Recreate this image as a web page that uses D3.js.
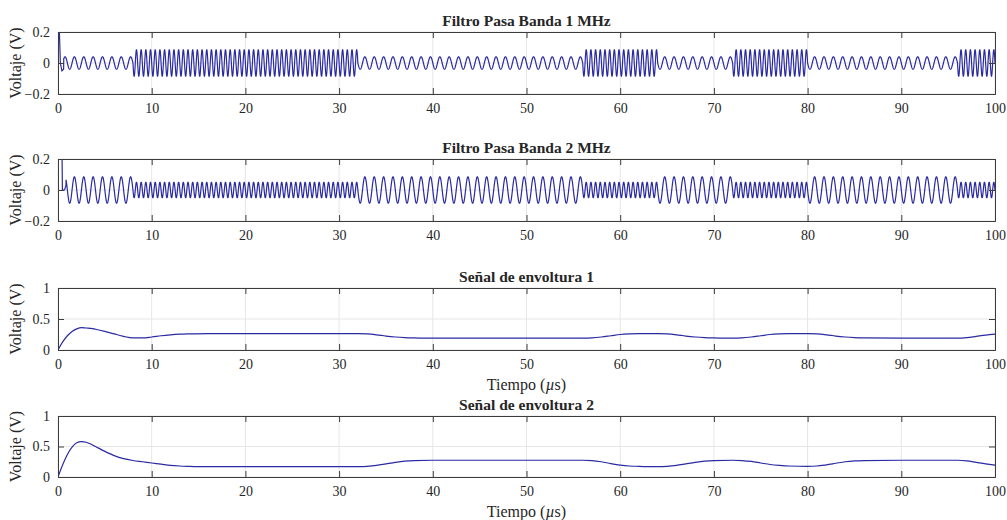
<!DOCTYPE html>
<html><head><meta charset="utf-8">
<script src="https://cdn.jsdelivr.net/npm/d3@7"></script>
<style>
body{margin:0;background:#fff}
svg{display:block}
text{font-family:"Liberation Serif","Times New Roman",serif;fill:#262626}
</style>
</head><body>
<script>
// Bit intervals of the FSK input (µs) and the carrier in each interval (MHz)
const segStart = [0, 8, 32, 56, 64, 72, 80, 96];
const segEnd   = [8, 32, 56, 64, 72, 80, 96, 100];
const segFreq  = [1, 2, 1, 2, 1, 2, 1, 2];
// Output amplitude (V) of each band-pass filter in each interval
const amp1 = [0.04, 0.085, 0.04, 0.085, 0.04, 0.085, 0.04, 0.085];
const amp2 = [0.085, 0.05, 0.085, 0.05, 0.085, 0.05, 0.085, 0.05];
// Start-up transients of the filters [t (µs), V]
const transient1 = [[0, 0], [0.01, 0.3], [0.1, 0.3], [0.25, 0.0], [0.42, -0.05], [0.6, -0.04]];
const transient2 = [[0, 0], [0.01, 0.3], [0.42, 0.3], [0.47, 0.0], [0.7, 0.0], [0.85, 0.03]];

// Envelope detector outputs
const envTime = [0,0.5,1,1.5,2,2.5,3,3.5,4,5,6,7,8,9,10,11,12,13,14,16,20,25,30,32,33,34,35,36,37,38,40,45,50,55,56,57,58,59,60,61,62,64,65,66,67,68,69,70,72,73,74,75,76,77,78,80,81,82,83,84,85,86,90,95,96,97,98,99,100];
const env1 = [0,0.13,0.23,0.30,0.34,0.36,0.355,0.35,0.335,0.30,0.26,0.22,0.195,0.195,0.21,0.23,0.245,0.255,0.26,0.265,0.265,0.265,0.265,0.265,0.26,0.245,0.225,0.21,0.2,0.195,0.19,0.19,0.19,0.19,0.19,0.195,0.21,0.23,0.25,0.26,0.265,0.265,0.26,0.245,0.225,0.21,0.2,0.195,0.19,0.195,0.21,0.23,0.25,0.26,0.265,0.265,0.26,0.245,0.225,0.21,0.2,0.195,0.19,0.19,0.19,0.2,0.22,0.24,0.255];
const env2 = [0,0.2,0.37,0.49,0.56,0.58,0.57,0.54,0.5,0.42,0.35,0.3,0.27,0.25,0.23,0.21,0.19,0.18,0.175,0.17,0.17,0.17,0.17,0.17,0.175,0.19,0.215,0.24,0.26,0.27,0.275,0.275,0.275,0.275,0.275,0.27,0.25,0.22,0.195,0.18,0.175,0.17,0.175,0.19,0.215,0.24,0.26,0.27,0.275,0.27,0.255,0.23,0.205,0.19,0.18,0.175,0.18,0.2,0.225,0.25,0.265,0.27,0.275,0.275,0.275,0.265,0.24,0.215,0.195];

const xTicks = [0, 10, 20, 30, 40, 50, 60, 70, 80, 90, 100];
const yTicksFilter = [-0.2, 0, 0.2];
const yTicksEnv = [0, 0.5, 1];

// Build a band-pass output trace: transient, then the carrier of each bit interval
function filterTrace(amps, transient) {
  const pts = transient.slice();
  const t0 = transient[transient.length - 1][0];
  const dt = 0.01;
  for (let i = 0; i < segStart.length; i++) {
    for (let t = Math.max(segStart[i], t0 + dt); t < segEnd[i] + 1e-9; t += dt) {
      pts.push([t, -amps[i] * Math.sin(2 * Math.PI * segFreq[i] * t)]);
    }
  }
  return pts;
}

const W = 1007, H = 520;
const svg = d3.select("body").append("svg").attr("width", W).attr("height", H);
const x = d3.scaleLinear().domain([0, 100]).range([58, 995]);
const lineColor = "#2a2aa2";

const panels = [
  {title: "Filtro Pasa Banda 1 MHz", top: 32, bottom: 94, domain: [-0.2, 0.2], ticks: yTicksFilter,
   data: filterTrace(amp1, transient1), xlabel: false},
  {title: "Filtro Pasa Banda 2 MHz", top: 159, bottom: 221, domain: [-0.2, 0.2], ticks: yTicksFilter,
   data: filterTrace(amp2, transient2), xlabel: false},
  {title: "Señal de envoltura 1", top: 288, bottom: 350, domain: [0, 1], ticks: yTicksEnv,
   data: envTime.map((t, i) => [t, env1[i]]), xlabel: true, smooth: true},
  {title: "Señal de envoltura 2", top: 416, bottom: 477, domain: [0, 1], ticks: yTicksEnv,
   data: envTime.map((t, i) => [t, env2[i]]), xlabel: true, smooth: true}
];

panels.forEach((p, k) => {
  const y = d3.scaleLinear().domain(p.domain).range([p.bottom, p.top]);
  const g = svg.append("g");
  const x0 = x.range()[0], x1 = x.range()[1];

  // grid
  g.append("g").selectAll("line").data(xTicks).join("line")
    .attr("x1", d => x(d)).attr("x2", d => x(d)).attr("y1", p.top).attr("y2", p.bottom)
    .attr("stroke", "#e6e6e6").attr("stroke-width", 1);
  g.append("g").selectAll("line").data(p.ticks).join("line")
    .attr("x1", x0).attr("x2", x1).attr("y1", d => y(d)).attr("y2", d => y(d))
    .attr("stroke", "#e6e6e6").attr("stroke-width", 1);

  // trace
  const clipId = "clip" + k;
  svg.append("clipPath").attr("id", clipId).append("rect")
    .attr("x", x0).attr("y", p.top).attr("width", x1 - x0).attr("height", p.bottom - p.top);
  const line = d3.line().x(d => x(d[0])).y(d => y(d[1]));
  if (p.smooth) line.curve(d3.curveMonotoneX);
  g.append("path").datum(p.data).attr("d", line)
    .attr("clip-path", `url(#${clipId})`)
    .attr("fill", "none").attr("stroke", lineColor).attr("stroke-width", 1.2);

  // axes: bottom with labels, top/left/right ticks inward
  const tl = 6;
  const axB = d3.axisBottom(x).tickValues(xTicks).tickSize(-tl).tickPadding(9).tickFormat(d3.format("d"));
  const axT = d3.axisTop(x).tickValues(xTicks).tickSize(-tl).tickFormat("");
  const axL = d3.axisLeft(y).tickValues(p.ticks).tickSize(-tl).tickPadding(8).tickFormat(d => d === 0 ? "0" : d3.format("")(d));
  const axR = d3.axisRight(y).tickValues(p.ticks).tickSize(-tl).tickFormat("");
  [[axB, `translate(0,${p.bottom})`], [axT, `translate(0,${p.top})`],
   [axL, `translate(${x0},0)`], [axR, `translate(${x1},0)`]].forEach(([ax, tr]) => {
    const a = g.append("g").attr("transform", tr).call(ax);
    a.select(".domain").attr("stroke", "#3c3c3c").attr("stroke-width", 1);
    a.selectAll(".tick line").attr("stroke", "#3c3c3c");
    a.selectAll("text").attr("font-family", "Liberation Serif, serif").attr("font-size", 14).attr("fill", "#333");
  });

  // title
  svg.append("text").attr("x", (x0 + x1) / 2).attr("y", p.top - 6)
    .attr("text-anchor", "middle").attr("font-size", 15.5).attr("font-weight", "bold")
    .text(p.title);

  // y label
  svg.append("text")
    .attr("transform", `translate(21,${(p.top + p.bottom) / 2}) rotate(-90)`)
    .attr("text-anchor", "middle").attr("font-size", 16).attr("fill", "#333")
    .text("Voltaje (V)");

  // x label
  if (p.xlabel) {
    const t = svg.append("text").attr("x", (x0 + x1) / 2).attr("y", p.bottom + 40)
      .attr("text-anchor", "middle").attr("font-size", 16).attr("fill", "#333");
    t.append("tspan").text("Tiempo (");
    t.append("tspan").attr("font-style", "italic").text("µ");
    t.append("tspan").text("s)");
  }
});
</script>
</body></html>
